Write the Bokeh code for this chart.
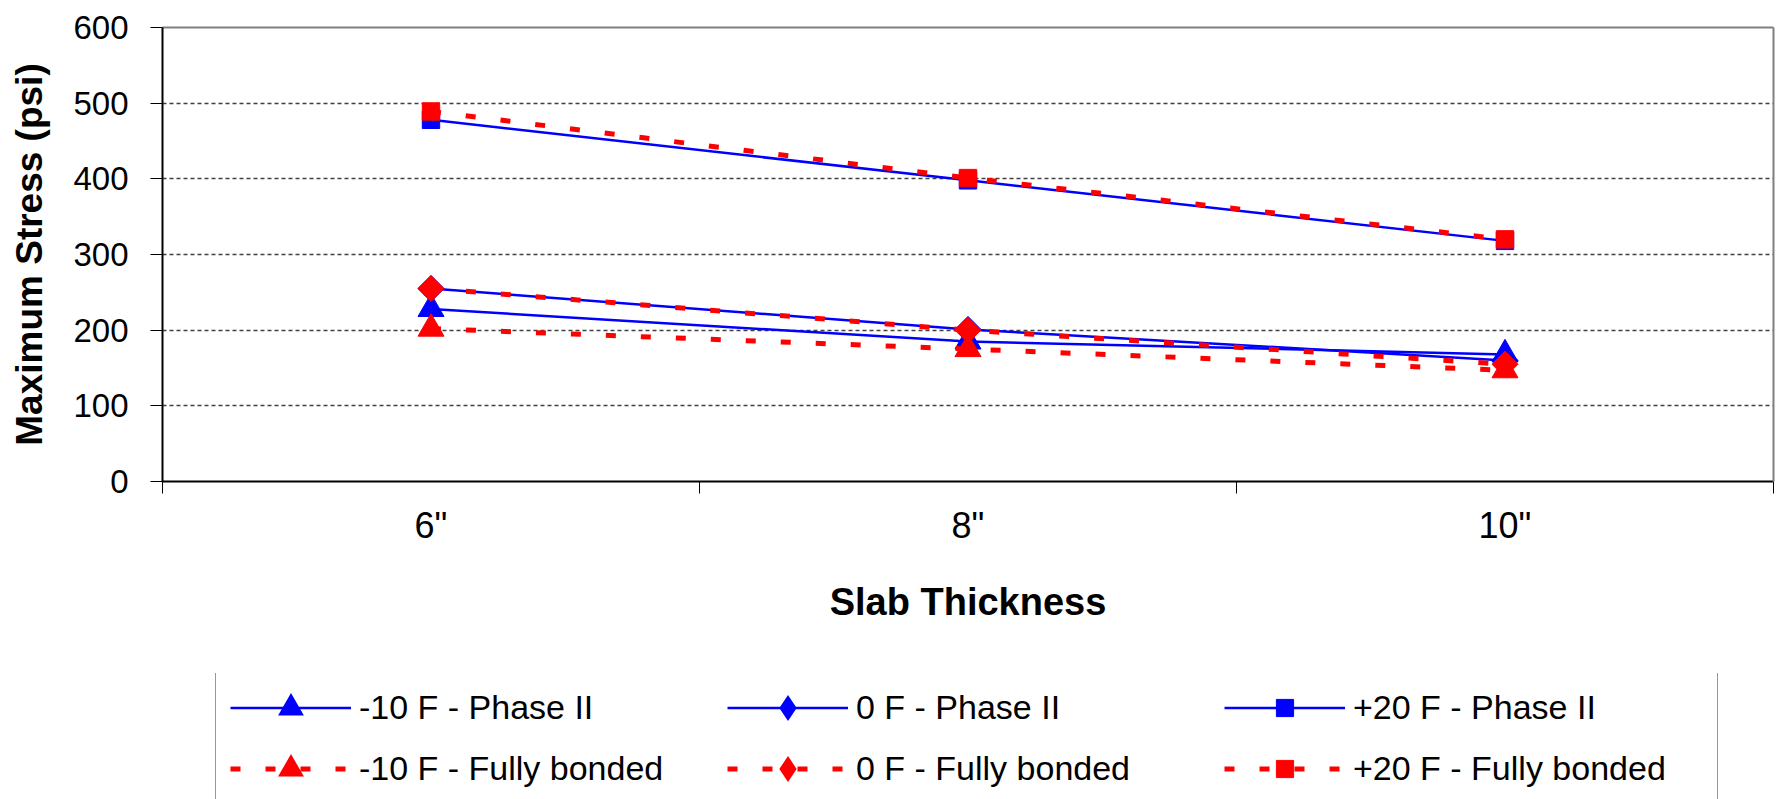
from math import pi

from bokeh.plotting import figure
from bokeh.layouts import column
from bokeh.models import (Range1d, LinearAxis, FixedTicker, Legend, LegendItem)
from bokeh.embed import file_html
from bokeh.resources import INLINE

# Slab thickness categories and maximum stress (psi) for each case
categories = ['6"', '8"', '10"']
stress_m10_phase2 = [228, 185, 168]
stress_0_phase2 = [255, 201, 160]
stress_p20_phase2 = [478, 398, 318]
stress_m10_bonded = [202, 175, 147]
stress_0_bonded = [255, 200, 155]
stress_p20_bonded = [489, 401, 320]
y_ticks = [0, 100, 200, 300, 400, 500, 600]

series_labels = ["-10 F - Phase II", "0 F - Phase II", "+20 F - Phase II",
                 "-10 F - Fully bonded", "0 F - Fully bonded", "+20 F - Fully bonded"]
series_values = [stress_m10_phase2, stress_0_phase2, stress_p20_phase2,
                 stress_m10_bonded, stress_0_bonded, stress_p20_bonded]
series_markers = ["triangle", "diamond", "square", "triangle", "diamond", "square"]
series_bonded = [False, False, False, True, True, True]

FONT = "Liberation Sans"
BLUE = "#0000FF"
RED = "#FF0000"

# each category occupies one unit; points sit in the middle of their slot
slot_centers = [i + 0.5 for i in range(len(categories))]
slot_bounds = list(range(len(categories) + 1))

p = figure(width=1777, height=673,
           x_range=Range1d(slot_bounds[0], slot_bounds[-1]),
           y_range=Range1d(y_ticks[0], y_ticks[-1]),
           x_axis_location="below", y_axis_location="left",
           output_backend="svg", toolbar_location=None,
           min_border_left=162, min_border_right=4,
           min_border_top=27, min_border_bottom=192)
p.outline_line_color = None
p.background_fill_color = "white"
p.border_fill_color = "white"

# value axis
yax = p.yaxis[0]
yax.ticker = FixedTicker(ticks=y_ticks)
yax.axis_label = "Maximum Stress (psi)"
yax.axis_label_text_font = FONT
yax.axis_label_text_font_size = "37px"
yax.axis_label_text_font_style = "bold"
yax.axis_label_text_color = "black"
yax.axis_label_standoff = 20
yax.major_label_text_font = FONT
yax.major_label_text_font_size = "33px"
yax.major_label_text_color = "black"
yax.major_label_standoff = 22
yax.major_tick_in = 0
yax.major_tick_out = 12
yax.major_tick_line_color = "black"
yax.minor_tick_line_color = None
yax.axis_line_color = "black"
yax.axis_line_width = 2

# category axis: labels in the middle of each slot, tick marks on the slot edges
xax = p.xaxis[0]
xax.ticker = FixedTicker(ticks=slot_centers, minor_ticks=slot_bounds)
xax.major_label_overrides = {c: name for c, name in zip(slot_centers, categories)}
xax.major_tick_line_color = None
xax.major_tick_in = 0
xax.major_tick_out = 0
xax.minor_tick_in = 0
xax.minor_tick_out = 12
xax.minor_tick_line_color = "black"
xax.minor_tick_line_width = 1
xax.axis_line_color = "black"
xax.axis_line_width = 2
xax.major_label_standoff = 11
xax.major_label_text_font = FONT
xax.major_label_text_font_size = "36px"
xax.major_label_text_color = "black"
xax.axis_label = "Slab Thickness"
xax.axis_label_text_font = FONT
xax.axis_label_text_font_size = "38px"
xax.axis_label_text_font_style = "bold"
xax.axis_label_text_color = "black"
xax.axis_label_standoff = 32

# dashed horizontal gridlines between the axis and the top border
for g in p.ygrid:
    g.ticker = FixedTicker(ticks=y_ticks[1:-1])
    g.grid_line_color = "#404040"
    g.grid_line_width = 1.3
    g.grid_line_dash = "4 3"
for g in p.xgrid:
    g.visible = False

# gray top and right border of the plot area
top_border = LinearAxis(ticker=FixedTicker(ticks=[]),
                        major_tick_in=0, major_tick_out=0,
                        minor_tick_line_color=None,
                        major_label_text_font_size="0px", major_label_standoff=0,
                        axis_line_color="#808080", axis_line_width=2)
p.add_layout(top_border, "above")
right_border = LinearAxis(ticker=FixedTicker(ticks=[]),
                          major_tick_in=0, major_tick_out=0,
                          minor_tick_line_color=None,
                          major_label_text_font_size="0px", major_label_standoff=0,
                          axis_line_color="#808080", axis_line_width=2)
p.add_layout(right_border, "right")

# markers in the chart
PLOT_MARKER = {
    "triangle": dict(marker="triangle", size=26, line_width=1, angle=0),
    "diamond": dict(marker="square", size=18.4, line_width=1, angle=pi / 4),
    "square": dict(marker="square", size=17.4, line_width=1, angle=0),
}
# legend swatches get a fixed marker size, so the outline widens the larger shapes
KEY_MARKER = {
    "triangle": dict(marker="triangle", size=17.2, line_width=5),
    "diamond": dict(marker="diamond", size=17.2, line_width=4.9),
    "square": dict(marker="square", size=17.2, line_width=1),
}


def draw_series(fig, values, color, bonded, marker_style):
    if bonded:
        line = fig.line(x=slot_centers, y=values, line_color=color,
                        line_width=5, line_dash="10 25")
    else:
        line = fig.line(x=slot_centers, y=values, line_color=color, line_width=2.5)
    dots = fig.scatter(x=slot_centers, y=values, fill_color=color,
                       line_color=color, line_join="miter", **marker_style)
    return line, dots


for values, marker, bonded in zip(series_values, series_markers, series_bonded):
    draw_series(p, values, RED if bonded else BLUE, bonded, PLOT_MARKER[marker])

# key panel under the chart: its data window stays empty, the series copies
# only feed the legend swatches
key = figure(width=1777, height=126,
             x_range=Range1d(0, 1), y_range=Range1d(0, 1),
             x_axis_location=None, y_axis_location=None,
             output_backend="svg", toolbar_location=None, min_border=0)
key.outline_line_color = None
key.background_fill_color = "white"
key.border_fill_color = "white"
for g in key.grid:
    g.visible = False

items = []
for label, values, marker, bonded in zip(series_labels, series_values,
                                          series_markers, series_bonded):
    line, dots = draw_series(key, values, RED if bonded else BLUE, bonded,
                             KEY_MARKER[marker])
    items.append(LegendItem(label=label, renderers=[line, dots]))

# the key frame lines up with the chart frame above it
legend = Legend(items=items, orientation="horizontal", ncols=3,
                location=(53, -6),
                glyph_width=121, glyph_height=43,
                label_width=350, label_height=43, label_standoff=8,
                spacing=18, padding=14, margin=0,
                border_line_color="#303030", border_line_width=1.5,
                background_fill_color="white", background_fill_alpha=1.0,
                label_text_font=FONT, label_text_font_size="34px",
                label_text_color="black")
key.add_layout(legend, "center")

page = column(p, key, spacing=0)
open("out.html", "w").write(file_html(page, INLINE))
